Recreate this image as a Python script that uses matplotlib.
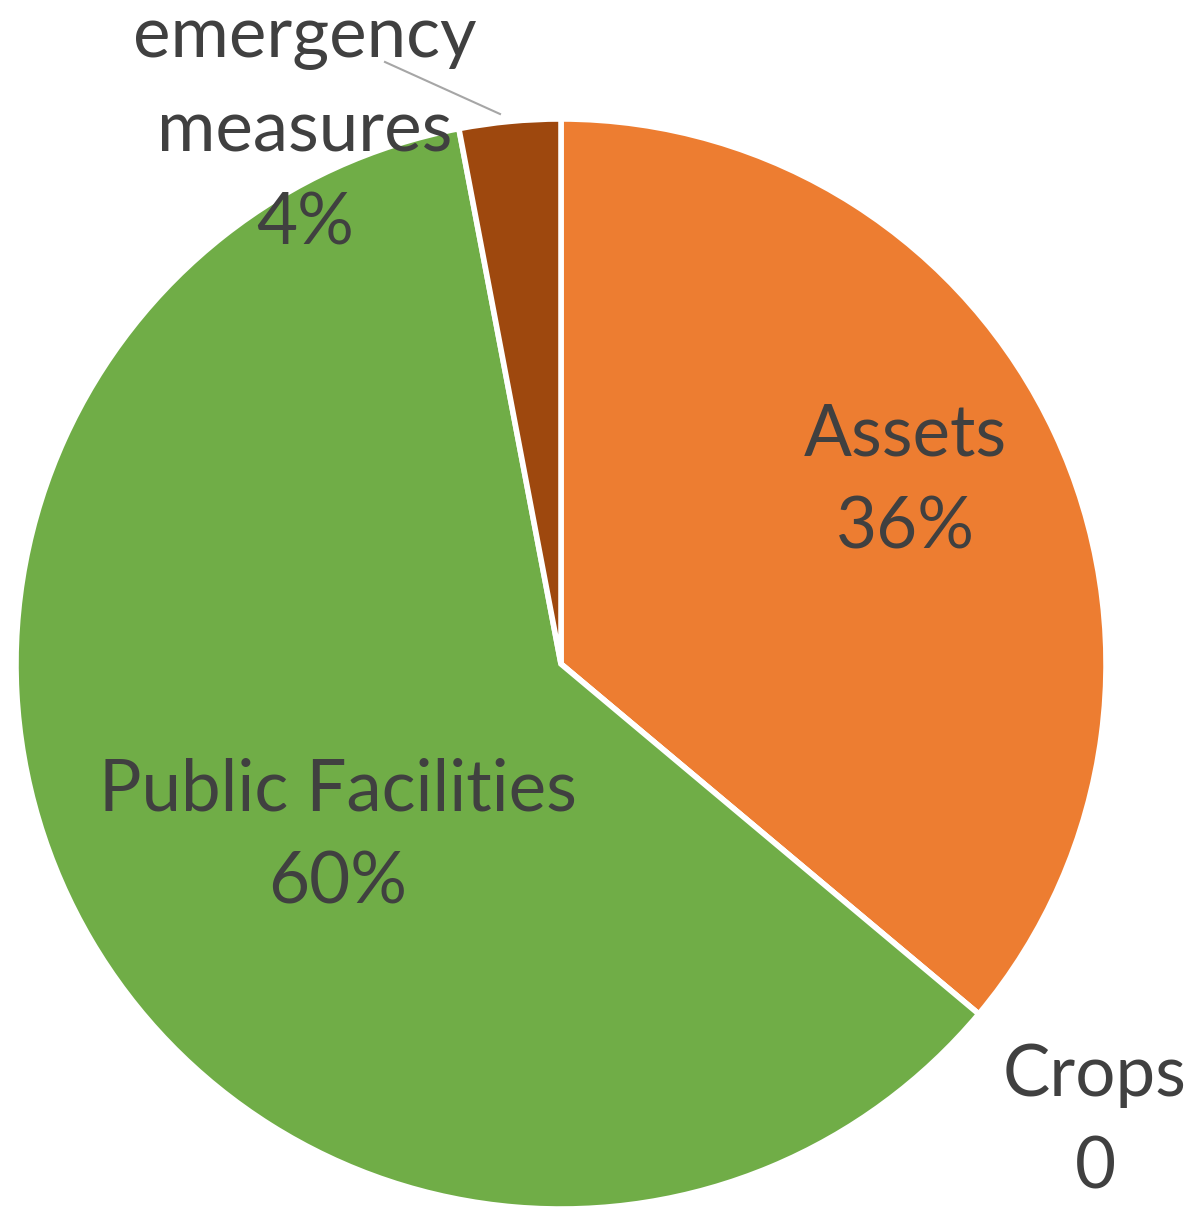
import matplotlib.pyplot as plt

# slice data (clockwise from 12 o'clock)
names = ['Assets', 'Crops', 'Public Facilities', 'emergency\nmeasures']
shares = [36.1, 0.0, 60.9, 3.0]
pct_labels = ['36%', '0', '60%', '4%']
colors = ['#ED7D31', '#A5A5A5', '#70AD47', '#9E480E']
explode = [0.02, 0, 0, 0]

W, H = 1202, 1207
fig = plt.figure(figsize=(W / 100, H / 100), dpi=100)
ax = fig.add_axes([0, 0, 1, 1])

cx, cy, r = 561, H - 664, 545
ax.pie(shares, colors=colors, explode=explode, startangle=90, counterclock=False,
       center=(cx, cy), radius=r,
       wedgeprops=dict(edgecolor='white', linewidth=4))

ax.set_xlim(0, W)
ax.set_ylim(0, H)
ax.set_aspect('equal')
ax.axis('off')

txt = dict(family='Lato', fontsize=51, color='#404040', ha='center', va='center')

# label placement in pixel coords (x, y of first line), line step
label_pos = [(905, 435), (1095, 1075), (338, 790), (305, 38)]
step = 93
for name, pct, (x, y) in zip(names, pct_labels, label_pos):
    lines = name.split('\n') + [pct]
    for i, s in enumerate(lines):
        ax.text(x, H - (y + i * step), s, **txt)

# leader line for the small slice
ax.plot([385, 500], [H - 62, H - 114], color='#A6A6A6', lw=1.5)

fig.savefig('out.png', dpi=100)
